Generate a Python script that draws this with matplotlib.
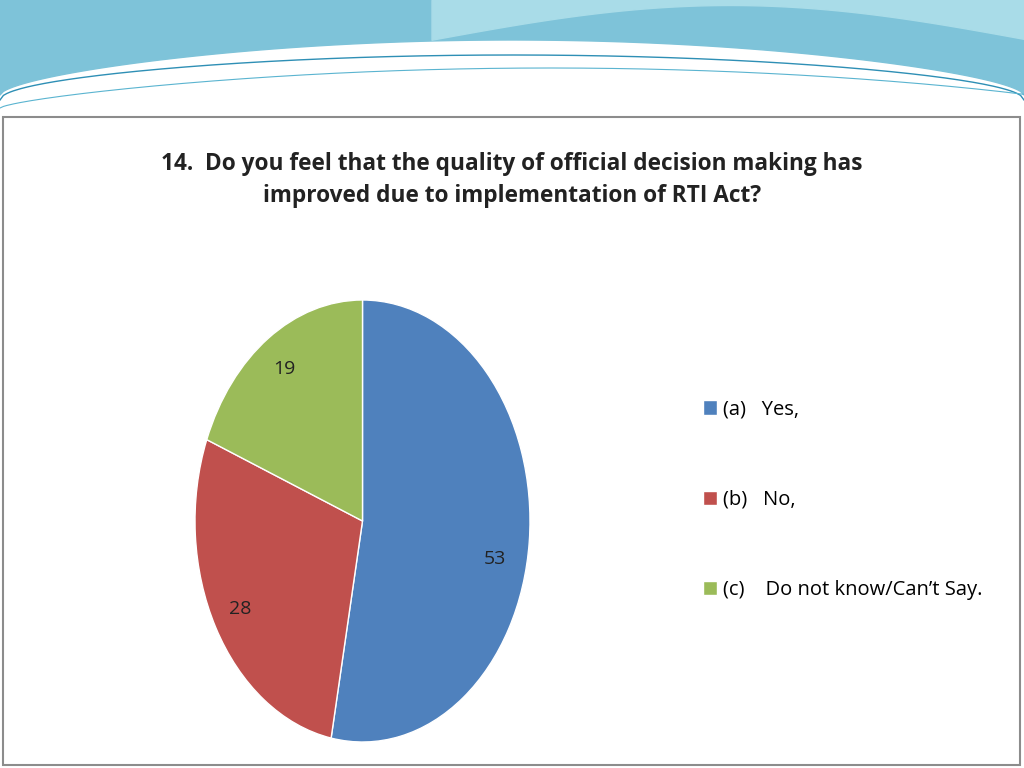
import numpy as np
import matplotlib.pyplot as plt
from matplotlib.patches import Rectangle

labels = ["(a)   Yes,", "(b)   No,", "(c)    Do not know/Can\u2019t Say."]
values = [53, 28, 19]
colors = ["#4F81BD", "#C0504D", "#9BBB59"]
title = "14.  Do you feel that the quality of official decision making has\nimproved due to implementation of RTI Act?"

fig = plt.figure(figsize=(10.24, 7.68), dpi=100)

# background decoration in pixel coordinates
bg = fig.add_axes([0, 0, 1, 1])
bg.set_xlim(0, 1024)
bg.set_ylim(768, 0)
bg.axis("off")
x = np.linspace(0, 1024, 300)
top1 = 95 - 55 * np.sin(np.pi * x / 1024) ** 0.6
bg.fill_between(x, 0, top1, color="#7EC3D9")
xr = x[x > 430]
bg.fill_between(xr, 0, 40 - 35 * np.sin(np.pi * (xr - 430) / 600), color="#A9DCE8")
bg.plot(x, 100 - 45 * np.sin(np.pi * x / 1024) ** 0.5, color="#2E8FB5", lw=1)
bg.plot(x, 108 - 40 * np.sin(np.pi * x / 1100) ** 0.7, color="#5AB4D0", lw=0.8)
bg.add_patch(Rectangle((3, 117), 1017, 648, fill=False, ec="#8C8C8C", lw=1.5))

fig.text(0.5, 1 - 180 / 768, title, ha="center", va="center", fontsize=16.3,
         fontweight="bold", family="Open Sans", linespacing=1.4, color="#222222")

ax = fig.add_axes([195 / 1024, 26 / 768, 335 / 1024, 442 / 768])
wedges, _, autotexts = ax.pie(values, colors=colors, startangle=90, counterclock=False,
                              autopct=lambda p: f"{p:.0f}", pctdistance=0.83,
                              wedgeprops=dict(linewidth=1, edgecolor="white"),
                              textprops=dict(fontsize=14, family="Open Sans", color="#222222"))
autotexts[0].set_position((0.79, -0.17))
ax.set_aspect("auto")
ax.set_xlim(-1, 1)
ax.set_ylim(-1, 1)

fig.legend(wedges, labels, loc="center left", bbox_to_anchor=(685 / 1024, 1 - 500 / 768),
           frameon=False, prop=dict(family="Open Sans", size=14.5),
           labelspacing=3.5, handlelength=0.7, handleheight=0.7, handletextpad=0.3)

fig.savefig("out.png", dpi=100)
